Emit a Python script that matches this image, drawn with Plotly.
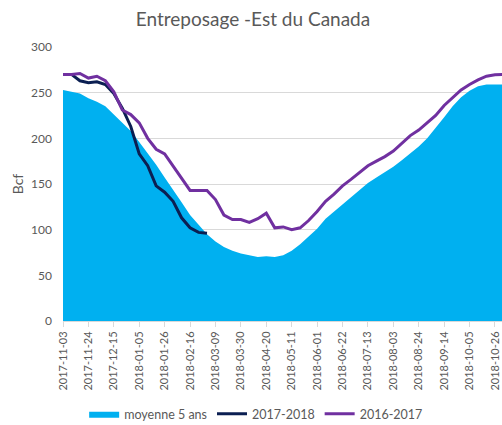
import pandas as pd
import plotly.graph_objects as go

weeks = [d.strftime("%Y-%m-%d") for d in pd.date_range("2017-11-03", periods=53, freq="7D")]

tick_labels = ["2017-11-03", "2017-11-24", "2017-12-15", "2018-01-05", "2018-01-26",
               "2018-02-16", "2018-03-09", "2018-03-30", "2018-04-20", "2018-05-11",
               "2018-06-01", "2018-06-22", "2018-07-13", "2018-08-03", "2018-08-24",
               "2018-09-14", "2018-10-05", "2018-10-26"]

moyenne_5_ans = [253, 251, 249, 244, 240, 235, 226, 217, 208, 196,
                 184, 171, 157, 144, 130, 116, 105, 95, 87, 81,
                 77, 74, 72, 70, 71, 70, 72, 77, 84, 92,
                 101, 112, 120, 128, 136, 144, 151, 157, 163, 169,
                 176, 183, 191, 200, 211, 223, 235, 245, 252, 257,
                 259, 259, 259]

s2017_2018 = [270, 270, 263, 261, 262, 259, 249, 233, 213, 183,
              170, 148, 141, 131, 113, 102, 97, 96]

s2016_2017 = [270, 270, 271, 266, 268, 263, 251, 231, 226, 217,
              200, 188, 183, 170, 157, 143, 143, 143, 133, 116,
              111, 111, 108, 112, 118, 102, 103, 100, 102, 110,
              120, 131, 139, 148, 155, 163, 170, 175, 180, 186,
              194, 203, 209, 217, 225, 236, 245, 253, 259, 264,
              268, 269.5, 270]

grey = "#595959"
font_family = "Lato, 'Open Sans', sans-serif"

fig = go.Figure()
fig.add_trace(go.Scatter(
    x=weeks, y=moyenne_5_ans, name="moyenne 5 ans", mode="lines",
    line=dict(width=0, color="#00B0F0"), fill="tozeroy", fillcolor="#00B0F0"))
fig.add_trace(go.Scatter(
    x=weeks[:len(s2017_2018)], y=s2017_2018, name="2017-2018", mode="lines",
    line=dict(width=3, color="#0B1F52")))
fig.add_trace(go.Scatter(
    x=weeks, y=s2016_2017, name="2016-2017", mode="lines",
    line=dict(width=3, color="#7030A0")))

fig.update_layout(
    width=502, height=425,
    margin=dict(l=63, r=0, t=47, b=104, autoexpand=False),
    paper_bgcolor="white", plot_bgcolor="white",
    font=dict(family=font_family, color=grey, size=12),
    title=dict(text="Entreposage -Est du Canada", x=0.504, xref="container", xanchor="center",
               y=0.955, yanchor="middle", font=dict(size=19, color=grey)),
    showlegend=True,
    legend=dict(orientation="h", x=0.44, xanchor="center", y=-0.34, yanchor="middle",
                font=dict(size=12.5, color=grey), itemwidth=30, tracegroupgap=0),
)
fig.update_xaxes(
    type="category", categoryorder="array", categoryarray=weeks,
    range=[0, 51.83], tickmode="array", tickvals=tick_labels, ticktext=tick_labels,
    tickangle=-90, tickfont=dict(size=11, color=grey), ticklabeloverflow="allow",
    automargin=False,
    showgrid=False, showline=True, linecolor="#D9D9D9", linewidth=1,
    ticks="outside", ticklen=5, tickcolor="#D9D9D9", zeroline=False)
fig.update_yaxes(
    range=[0, 300], tickmode="array", tickvals=[0, 50, 100, 150, 200, 250, 300],
    automargin=False,
    showgrid=True, gridcolor="#D9D9D9", gridwidth=1, zeroline=False,
    tickfont=dict(size=12, color=grey), ticks="", ticklabelstandoff=10,
    title=dict(text="Bcf", font=dict(size=14, color=grey), standoff=4))

fig.write_html("out.html", config={"displayModeBar": False},
               post_script="document.body.style.margin='0px';document.body.style.overflow='hidden';")
